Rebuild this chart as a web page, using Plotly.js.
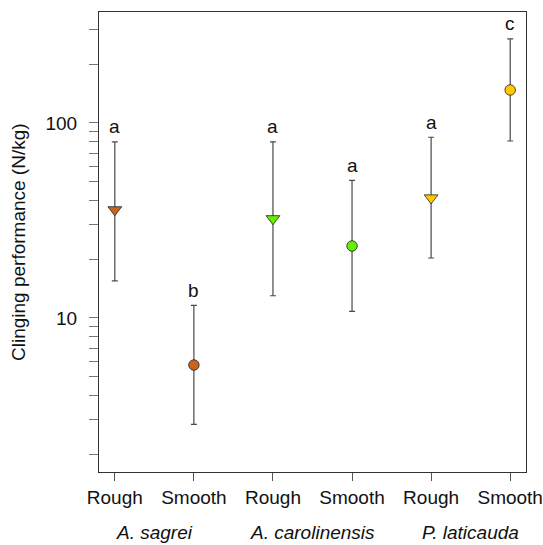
<!DOCTYPE html>
<html>
<head>
<meta charset="utf-8">
<script src="https://cdn.plot.ly/plotly-3.0.1.min.js"></script>
<style>html,body{margin:0;padding:0;background:#fff;}#chart{width:543px;height:545px;}</style>
</head>
<body>
<div id="chart"></div>
<script>
const surfaces = ["Rough", "Smooth", "Rough", "Smooth", "Rough", "Smooth"];
const species = ["A. sagrei", "A. carolinensis", "P. laticauda"];
const means = [35.9, 5.74, 32.3, 23.4, 41.3, 147.6];
const upper = [80, 11.6, 80, 50.8, 84.5, 270];
const lower = [15.5, 2.85, 13.0, 10.8, 20.3, 80.8];
const letters = ["a", "b", "a", "a", "a", "c"];
const colors = ["#C8641E", "#C8641E", "#66EE00", "#66EE00", "#FFC800", "#FFC800"];
const symbols = ["triangle-down", "circle", "triangle-down", "circle", "triangle-down", "circle"];
const yTickVals = [2,3,4,5,6,7,8,9,10,20,30,40,50,60,70,80,90,100,200,300];
const yTickLabels = {10: "10", 100: "100"};

const xs = surfaces.map((_, i) => i + 1);
const font = "Liberation Sans, Arial, sans-serif";
const fs = 19;

const trace = {
  x: xs,
  y: means,
  type: "scatter",
  mode: "markers",
  marker: {
    color: colors,
    symbol: symbols,
    size: symbols.map(s => s === "circle" ? 10.5 : 12),
    opacity: 1,
    line: {color: "#222", width: 0.8}
  },
  error_y: {
    type: "data",
    symmetric: false,
    array: upper.map((u, i) => u - means[i]),
    arrayminus: lower.map((l, i) => means[i] - l),
    color: "#4a4a4a",
    thickness: 1.2,
    width: 3
  },
  hoverinfo: "skip",
  showlegend: false
};

const annotations = [];
letters.forEach((t, i) => {
  annotations.push({
    x: xs[i], y: Math.log10(upper[i]), xref: "x", yref: "y",
    text: t, showarrow: false, yanchor: "middle", yshift: 15,
    font: {family: font, size: fs, color: "#111"}
  });
});
species.forEach((s, j) => {
  annotations.push({
    x: 2 * j + 1.5, y: 0, xref: "x", yref: "paper",
    text: "<i>" + s + "</i>", showarrow: false, yanchor: "middle", yshift: -60,
    font: {family: font, size: fs, color: "#111"}
  });
});
annotations.push({
  x: 0, y: 0.5, xref: "paper", yref: "paper", xshift: -81,
  text: "Clinging performance (N/kg)", textangle: -90, showarrow: false,
  xanchor: "center", yanchor: "middle",
  font: {family: font, size: fs, color: "#111"}
});

const layout = {
  width: 543, height: 545,
  margin: {l: 99, r: 17, t: 12, b: 73},
  paper_bgcolor: "#fff", plot_bgcolor: "#fff",
  font: {family: font, size: fs, color: "#111"},
  xaxis: {
    range: [0.8, 6.2],
    tickvals: xs, ticktext: surfaces,
    ticks: "outside", ticklen: 8, tickcolor: "#555", tickwidth: 1,
    ticklabelstandoff: 0,
    showline: true, linecolor: "#333", linewidth: 1, mirror: true,
    showgrid: false, zeroline: false,
    tickfont: {family: font, size: fs, color: "#111"}
  },
  yaxis: {
    type: "log",
    range: [0.2103, 2.569],
    tickvals: yTickVals,
    ticktext: yTickVals.map(v => yTickLabels[v] || ""),
    ticks: "outside", ticklen: 9, tickcolor: "#777", tickwidth: 1,
    ticklabelstandoff: 8,
    showline: true, linecolor: "#333", linewidth: 1, mirror: true,
    showgrid: false, zeroline: false,
    tickfont: {family: font, size: fs, color: "#111"}
  },
  annotations: annotations
};

Plotly.newPlot("chart", [trace], layout, {staticPlot: true, displayModeBar: false});
</script>
</body>
</html>
